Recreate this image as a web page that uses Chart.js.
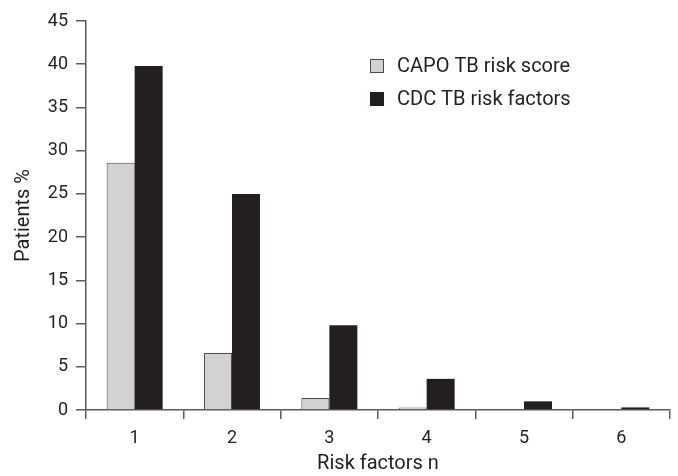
<html>
<head>
    <title>Risk factors</title>
    <script src="https://cdn.jsdelivr.net/npm/chart.js"></script>
    <style>
        body { margin: 0; background: #fff; }
        .box { width: 678px; height: 476px; }
    </style>
</head>
<body>
    <div class="box"><canvas id="myChart"></canvas></div>
    <script>
        const categories = ['1', '2', '3', '4', '5', '6'];
        const capoScore = [28.6, 6.6, 1.4, 0.3, 0.1, 0.1];
        const cdcFactors = [39.8, 25.0, 9.8, 3.6, 1.0, 0.3];
        const seriesNames = ['CAPO TB risk score', 'CDC TB risk factors'];
        const yTicks = [0, 5, 10, 15, 20, 25, 30, 35, 40, 45];

        const ink = '#231f20';
        const axisGray = '#5a5a5a';

        // legend drawn inside the plot, top right
        const insideLegend = {
            id: 'insideLegend',
            afterDraw(chart) {
                const ctx = chart.ctx;
                ctx.save();
                ctx.font = '20px Roboto';
                ctx.textBaseline = 'middle';
                chart.data.datasets.forEach((ds, i) => {
                    const y = 66 + i * 33;
                    ctx.fillStyle = ds.backgroundColor;
                    ctx.fillRect(370, y - 7, 14, 14);
                    ctx.strokeStyle = ds.borderColor;
                    ctx.lineWidth = 1;
                    ctx.strokeRect(370.5, y - 6.5, 13, 13);
                    ctx.fillStyle = ink;
                    ctx.fillText(ds.label, 397, y + 1);
                });
                ctx.restore();
            }
        };

        const ctx = document.getElementById('myChart').getContext('2d');
        const myChart = new Chart(ctx, {
            type: 'bar',
            data: {
                labels: categories,
                datasets: [{
                    label: seriesNames[0],
                    data: capoScore,
                    backgroundColor: '#d1d2d4',
                    borderColor: '#4a4a4a',
                    borderWidth: 1
                },
                {
                    label: seriesNames[1],
                    data: cdcFactors,
                    backgroundColor: ink,
                    borderColor: ink,
                    borderWidth: 0
                }]
            },
            plugins: [insideLegend],
            options: {
                responsive: true,
                maintainAspectRatio: false,
                animation: false,
                layout: { padding: { top: 21, right: 8, left: 0, bottom: 0 } },
                plugins: {
                    legend: { display: false },
                    tooltip: { enabled: false }
                },
                datasets: {
                    bar: { categoryPercentage: 0.575, barPercentage: 1 }
                },
                scales: {
                    x: {
                        grid: { display: true, drawOnChartArea: false, drawTicks: true, tickLength: 9, color: axisGray, lineWidth: 1.5, offset: true },
                        border: { display: true, color: axisGray, width: 1.5 },
                        ticks: { color: ink, font: { family: 'Roboto', size: 18 }, padding: 9 },
                        title: { display: true, text: 'Risk factors n', color: ink, font: { family: 'Roboto', size: 20 }, padding: { top: 0, bottom: 0 } },
                        afterFit(scale) { scale.height = 66; }
                    },
                    y: {
                        min: 0,
                        max: 45,
                        afterBuildTicks(scale) { scale.ticks = yTicks.map(v => ({ value: v })); },
                        grid: { display: true, drawOnChartArea: false, drawTicks: true, tickLength: 10, color: axisGray, lineWidth: 1.5 },
                        border: { display: true, color: axisGray, width: 1.5 },
                        ticks: { color: ink, font: { family: 'Roboto', size: 18 }, padding: 8 },
                        title: { display: true, text: 'Patients %', color: ink, font: { family: 'Roboto', size: 20 }, padding: { top: 12, bottom: 0 } },
                        afterFit(scale) { scale.width = 86; }
                    }
                }
            }
        });
    </script>
</body>
</html>
